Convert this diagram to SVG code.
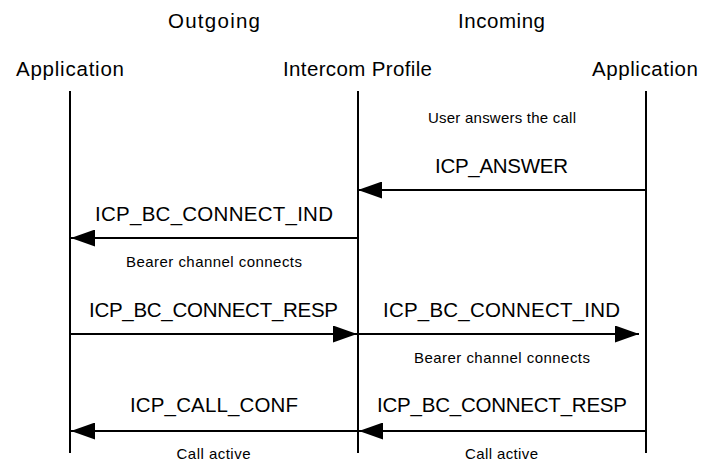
<svg xmlns="http://www.w3.org/2000/svg" width="703" height="461" viewBox="0 0 703 461">
<style>
text{font-family:"Liberation Sans",Arial,sans-serif;fill:#000;text-anchor:middle}
.h{font-size:20.5px}
.m{font-size:20.5px}
.s{font-size:15px}
.life{stroke:#000;stroke-width:2;fill:none}
.msg{stroke:#000;stroke-width:2;fill:none}
</style>
<defs>
<marker id="ah" viewBox="0 0 24 17" refX="24" refY="8.5" markerWidth="24" markerHeight="17" markerUnits="userSpaceOnUse" orient="auto">
<path d="M0,0 L24,8.5 L0,17 Z" fill="#000"/>
</marker>
</defs>
<text class="h" x="214" y="28" textLength="92" lengthAdjust="spacing">Outgoing</text>
<text class="h" x="501.5" y="28" textLength="87" lengthAdjust="spacing">Incoming</text>
<g id="app-out">
<text class="h" x="70" y="76" textLength="108" lengthAdjust="spacing">Application</text>
<line class="life" x1="70" y1="91" x2="70" y2="453"/>
</g>
<g id="icp">
<text class="h" x="357.5" y="76" textLength="149" lengthAdjust="spacing">Intercom Profile</text>
<line class="life" x1="358" y1="91" x2="358" y2="453"/>
</g>
<g id="app-in">
<text class="h" x="645" y="76" textLength="106" lengthAdjust="spacing">Application</text>
<line class="life" x1="646" y1="91" x2="646" y2="453"/>
</g>
<g id="connectors">
<line class="msg" x1="646" y1="190" x2="358" y2="190" marker-end="url(#ah)"/>
<line class="msg" x1="358" y1="238" x2="71" y2="238" marker-end="url(#ah)"/>
<line class="msg" x1="70" y1="334" x2="357" y2="334" marker-end="url(#ah)"/>
<line class="msg" x1="358" y1="334" x2="639" y2="334" marker-end="url(#ah)"/>
<line class="msg" x1="358" y1="431" x2="71" y2="431" marker-end="url(#ah)"/>
<line class="msg" x1="646" y1="431" x2="359" y2="431" marker-end="url(#ah)"/>
</g>
<g id="labels">
<text class="s" x="502" y="123" textLength="148" lengthAdjust="spacing">User answers the call</text>
<text class="m" x="501.5" y="173" textLength="133" lengthAdjust="spacing">ICP_ANSWER</text>
<text class="m" x="214" y="221" textLength="238" lengthAdjust="spacing">ICP_BC_CONNECT_IND</text>
<text class="s" x="214" y="267" textLength="176" lengthAdjust="spacing">Bearer channel connects</text>
<text class="m" x="213.5" y="317" textLength="249" lengthAdjust="spacing">ICP_BC_CONNECT_RESP</text>
<text class="m" x="501.5" y="317" textLength="237" lengthAdjust="spacing">ICP_BC_CONNECT_IND</text>
<text class="s" x="502" y="363" textLength="176" lengthAdjust="spacing">Bearer channel connects</text>
<text class="m" x="214" y="412" textLength="168" lengthAdjust="spacing">ICP_CALL_CONF</text>
<text class="m" x="502" y="412" textLength="250" lengthAdjust="spacing">ICP_BC_CONNECT_RESP</text>
<text class="s" x="213.5" y="459" textLength="74" lengthAdjust="spacing">Call active</text>
<text class="s" x="501.5" y="459" textLength="73" lengthAdjust="spacing">Call active</text>
</g>
</svg>
